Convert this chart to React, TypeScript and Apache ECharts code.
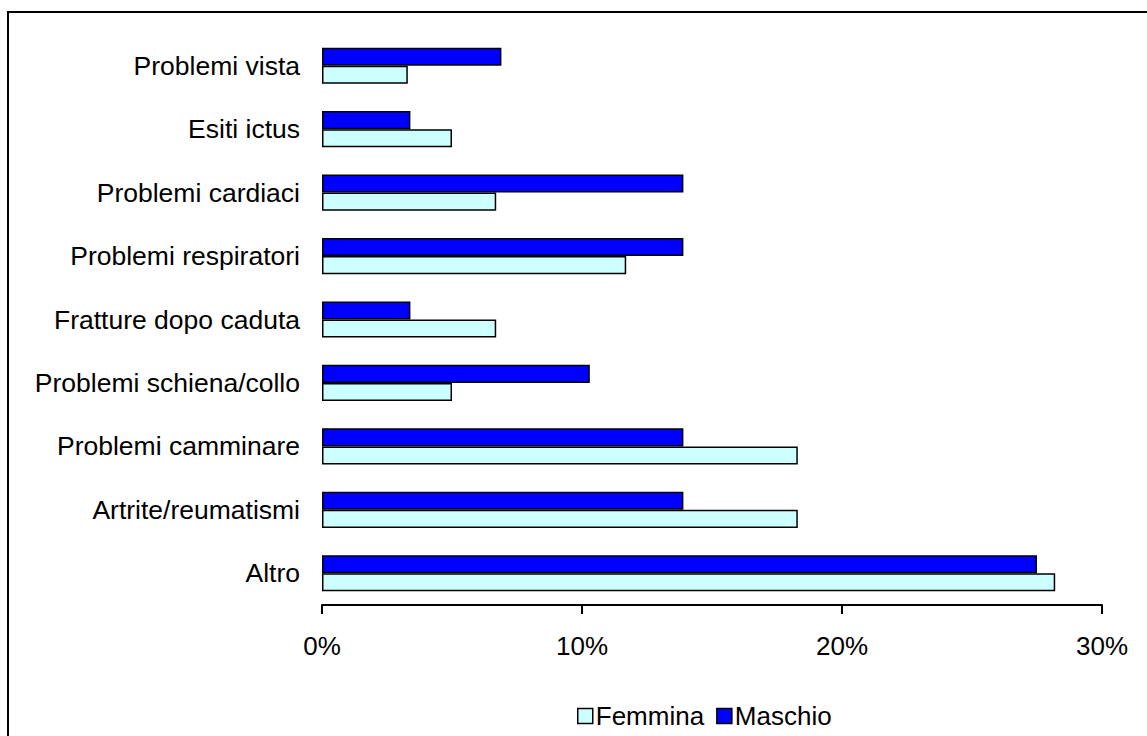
import React, { useEffect, useRef } from "react";
import * as echarts from "echarts";

const categories = [
  "Altro",
  "Artrite/reumatismi",
  "Problemi camminare",
  "Problemi schiena/collo",
  "Fratture dopo caduta",
  "Problemi respiratori",
  "Problemi cardiaci",
  "Esiti ictus",
  "Problemi vista",
];
const femmina = [28.2, 18.3, 18.3, 5.0, 6.7, 11.7, 6.7, 5.0, 3.3];
const maschio = [27.5, 13.9, 13.9, 10.3, 3.4, 13.9, 13.9, 3.4, 6.9];
const xTicks = [0, 10, 20, 30];

const FONT = "'Liberation Sans', Arial, sans-serif";

export default function App() {
  const ref = useRef<HTMLDivElement>(null);
  useEffect(() => {
    if (!ref.current) return;
    const chart = echarts.init(ref.current, undefined, { renderer: "svg" });
    chart.setOption({
      animation: false,
      backgroundColor: "#ffffff",
      textStyle: { fontFamily: FONT },
      graphic: [
        {
          type: "rect",
          shape: { x: 8, y: 12, width: 1170, height: 760 },
          style: { fill: "none", stroke: "#000", lineWidth: 2 },
          silent: true,
        },
      ],
      legend: {
        data: ["Femmina", "Maschio"],
        left: 572,
        top: 698,
        icon: "rect",
        itemWidth: 15,
        itemHeight: 15,
        itemGap: 12,
        itemStyle: { borderColor: "#000", borderWidth: 1.5 },
        textStyle: { fontSize: 26, color: "#000", fontFamily: FONT, padding: [0, 0, 0, -2] },
      },
      grid: { left: 322, right: 45, top: 34, bottom: 131, containLabel: false },
      xAxis: {
        type: "value",
        min: 0,
        max: 30,
        interval: 10,
        axisLine: { show: true, lineStyle: { color: "#000", width: 2 } },
        axisTick: { show: true, length: 9, lineStyle: { color: "#000", width: 2 } },
        splitLine: { show: false },
        axisLabel: {
          fontSize: 26,
          color: "#000",
          fontFamily: FONT,
          margin: 28,
          formatter: (v: number) => (xTicks.includes(v) ? v + "%" : ""),
        },
      },
      yAxis: {
        type: "category",
        data: categories,
        axisLine: { show: false },
        axisTick: { show: false },
        axisLabel: {
          fontSize: 26.5,
          color: "#000",
          fontFamily: FONT,
          margin: 22,
          padding: [5, 0, 0, 0],
        },
      },
      series: [
        {
          name: "Maschio",
          type: "bar",
          data: maschio,
          barGap: "0%",
          barCategoryGap: "43%",
          itemStyle: { color: "#0000FF", borderColor: "#000", borderWidth: 1.5 },
        },
        {
          name: "Femmina",
          type: "bar",
          data: femmina,
          barGap: "0%",
          barCategoryGap: "43%",
          itemStyle: { color: "#CCFFFF", borderColor: "#000", borderWidth: 1.5 },
        },
      ],
    });
    return () => chart.dispose();
  }, []);
  return (
    <div
      ref={ref}
      style={{ position: "fixed", left: 0, top: 0, width: 1147, height: 736 }}
    />
  );
}
